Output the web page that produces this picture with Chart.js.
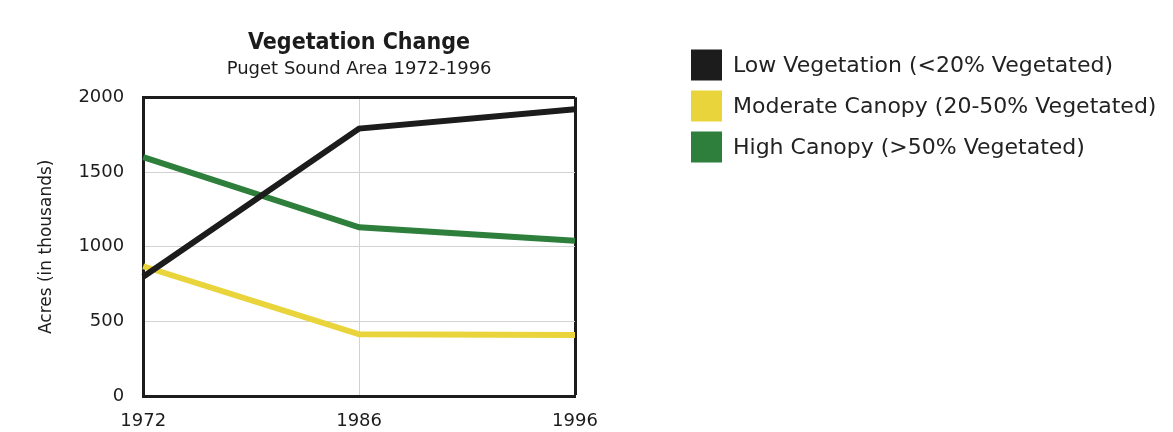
<!DOCTYPE html>
<html>
<head>
<meta charset="utf-8">
<script src="https://cdn.jsdelivr.net/npm/chart.js@4.4.1/dist/chart.umd.min.js"></script>
<style>
  html, body { margin: 0; padding: 0; background: #ffffff; }
  #wrap { width: 1173px; height: 432px; position: relative; }
</style>
</head>
<body>
<div id="wrap"><canvas id="chart" width="1173" height="432"></canvas></div>
<script>
// Years on the horizontal axis
const years = ['1972', '1986', '1996'];

// Acres (in thousands) for each land-cover class
const lowVegetation = [800, 1790, 1920];
const moderateCanopy = [870, 415, 410];
const highCanopy = [1600, 1130, 1040];

// Series names shown in the key
const seriesNames = [
  'Low Vegetation (<20% Vegetated)',
  'Moderate Canopy (20-50% Vegetated)',
  'High Canopy (>50% Vegetated)'
];

// Value axis ticks
const yTicks = [0, 500, 1000, 1500, 2000];

const INK = '#1c1c1c';
const GRID = '#d2d2d2';

// Key drawn to the right of the plot, one square swatch per series
const sideKey = {
  id: 'sideKey',
  afterDraw(chart, args, opts) {
    const ctx = chart.ctx;
    ctx.save();
    ctx.font = opts.font;
    ctx.textBaseline = 'middle';
    ctx.textAlign = 'left';
    chart.data.datasets.forEach((ds, i) => {
      const cy = opts.top + i * opts.rowGap;
      ctx.fillStyle = ds.borderColor;
      ctx.fillRect(opts.left, cy - opts.box / 2, opts.box, opts.box);
      ctx.fillStyle = opts.color;
      ctx.fillText(ds.label, opts.left + opts.box + opts.gap, cy + 1);
    });
    ctx.restore();
  }
};

new Chart(document.getElementById('chart'), {
  type: 'line',
  data: {
    labels: years,
    datasets: [
      { label: seriesNames[0], data: lowVegetation, borderColor: '#1c1c1c' },
      { label: seriesNames[1], data: moderateCanopy, borderColor: '#e9d53b' },
      { label: seriesNames[2], data: highCanopy, borderColor: '#2d7f3b' }
    ]
  },
  options: {
    responsive: false,
    animation: false,
    layout: { padding: { top: 10, left: 0, right: 598, bottom: -14 } },
    elements: {
      line: { borderWidth: 6, tension: 0, fill: false, borderJoinStyle: 'miter' },
      point: { radius: 0, hoverRadius: 0 }
    },
    plugins: {
      legend: { display: false },
      tooltip: { enabled: false },
      title: {
        display: true,
        fullSize: false,
        text: 'Vegetation Change',
        color: INK,
        font: { family: '"DejaVu Sans Condensed", "Liberation Sans Narrow", "DejaVu Sans", sans-serif', size: 23, weight: 'bold' },
        padding: { top: 19, bottom: 0 }
      },
      subtitle: {
        display: true,
        fullSize: false,
        text: 'Puget Sound Area 1972-1996',
        color: INK,
        font: { family: '"DejaVu Sans", sans-serif', size: 18 },
        padding: { top: 2, bottom: 17 }
      },
      sideKey: {
        left: 691,
        top: 65,
        rowGap: 41,
        box: 31,
        gap: 11,
        font: '22px "DejaVu Sans", sans-serif',
        color: '#222222'
      }
    },
    scales: {
      x: {
        type: 'category',
        offset: false,
        grid: {
          drawTicks: false,
          color: (c) => (c.index === years.length - 1 ? INK : GRID),
          lineWidth: (c) => (c.index === years.length - 1 ? 3 : 1)
        },
        border: { color: INK, width: 3 },
        ticks: {
          color: INK,
          padding: 14,
          maxRotation: 0,
          font: { family: '"DejaVu Sans", sans-serif', size: 18 }
        }
      },
      y: {
        min: yTicks[0],
        max: yTicks[yTicks.length - 1],
        afterBuildTicks: (scale) => { scale.ticks = yTicks.map(v => ({ value: v })); },
        grid: {
          drawTicks: false,
          color: (c) => (c.tick && c.tick.value === yTicks[yTicks.length - 1] ? INK : GRID),
          lineWidth: (c) => (c.tick && c.tick.value === yTicks[yTicks.length - 1] ? 3 : 1)
        },
        border: { color: INK, width: 3 },
        ticks: {
          color: INK,
          padding: 19,
          font: { family: '"DejaVu Sans", sans-serif', size: 18 },
          callback: (v) => String(v)
        },
        title: {
          display: true,
          text: 'Acres (in thousands)',
          color: INK,
          font: { family: '"DejaVu Sans", sans-serif', size: 17 },
          padding: { top: 36, bottom: 3 }
        }
      }
    }
  },
  plugins: [sideKey]
});
</script>
</body>
</html>
